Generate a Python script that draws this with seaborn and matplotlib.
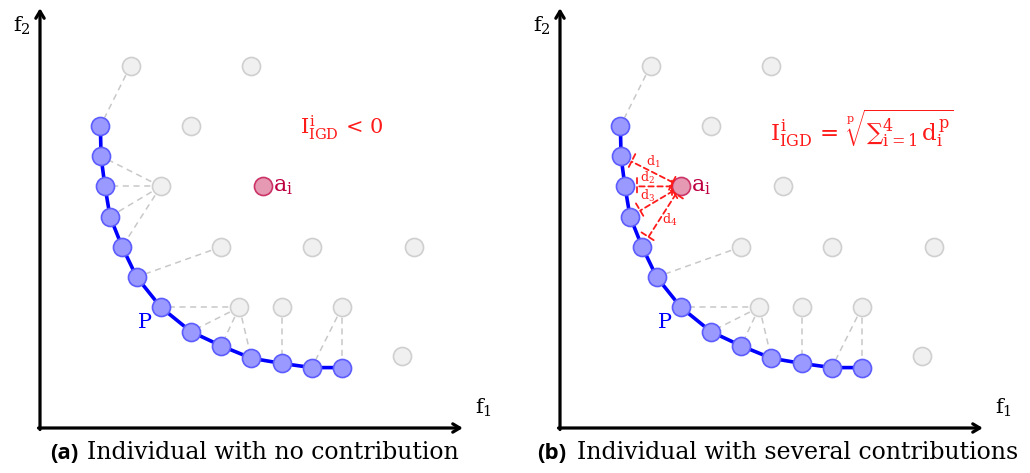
import matplotlib
matplotlib.use("Agg")
import matplotlib.pyplot as plt
import numpy as np
import pandas as pd
import seaborn as sns

# Pareto front approximation P (f1, f2)
front_f1 = [2.0, 2.02, 2.15, 2.32, 2.72, 3.2, 4.0, 5.0, 6.0, 7.0, 8.0, 9.0, 10.0]
front_f2 = [10.0, 9.0, 8.0, 7.0, 6.0, 5.0, 4.0, 3.19, 2.72, 2.31, 2.14, 2.0, 2.0]

# population members present in both panels
pop_f1 = [3.0, 7.0, 5.0, 6.0, 9.0, 12.4, 6.6, 8.0, 10.0, 12.0]
pop_f2 = [12.0, 12.0, 10.0, 6.0, 6.0, 6.0, 4.0, 4.0, 4.0, 2.4]

# the two positions that a_i and one other member swap between panels
near_pos = (4.0, 8.0)
far_pos = (7.4, 8.0)

# links from population members to their nearest front points
link_src_f1 = [3.0, 6.0, 6.6, 6.6, 6.6, 6.6, 8.0, 10.0, 10.0]
link_src_f2 = [12.0, 6.0, 4.0, 4.0, 4.0, 4.0, 4.0, 4.0, 4.0]
link_front = [0, 5, 6, 7, 8, 9, 10, 11, 12]

# front points closest to the member at near_pos
contrib_front = [1, 2, 3, 4]
contrib_labels = [r"$d_1$", r"$d_2$", r"$d_3$", r"$d_4$"]

captions = [("(a)", "Individual with no contribution"),
            ("(b)", "Individual with several contributions")]
formulas = [r"$I^{i}_{\mathrm{IGD}}\,<\,0$",
            "$I^{i}_{\\mathrm{IGD}}\\,=\\,\\sqrt[p]{\u2211_{i=1}^{4}\\,d_i^{p}}$"]
formula_sizes = [15, 16.5]

sns.set_style("white")
plt.rcParams["font.family"] = ["DejaVu Serif"]
plt.rcParams["text.color"] = "black"
plt.rcParams["mathtext.fontset"] = "custom"
plt.rcParams["mathtext.rm"] = "DejaVu Serif"
plt.rcParams["mathtext.it"] = "DejaVu Serif"
plt.rcParams["mathtext.bf"] = "DejaVu Serif:bold"

BLUE_FILL, BLUE_EDGE = "#9999ff", "#5c5cff"
GREY_FILL, GREY_EDGE = "#f0f0f0", "#cfcfcf"
AI_FILL, AI_EDGE, AI_TEXT = "#e599b3", "#cc3366", "#bf0040"
RED = "#ff1a1a"

W, H = 1030, 473
UNIT = 30.2  # pixels per data unit
fig = plt.figure(figsize=(W / 100, H / 100), dpi=100)

front_df = pd.DataFrame({"f1": front_f1, "f2": front_f2})
MS = 13  # marker size in points

for k, left_px in enumerate([40, 560]):
    ax = fig.add_axes([left_px / W, 45 / H, 450 / W, 428 / H])
    ax.set_xlim(0, 450 / UNIT)
    ax.set_ylim(0, 428 / UNIT)
    ax.axis("off")

    ai = far_pos if k == 0 else near_pos
    other = near_pos if k == 0 else far_pos
    grey_df = pd.DataFrame({"f1": pop_f1 + [other[0]], "f2": pop_f2 + [other[1]]})

    # grey dashed nearest-neighbour links
    for sx, sy, fi in zip(link_src_f1, link_src_f2, link_front):
        ax.plot([sx, front_f1[fi]], [sy, front_f2[fi]], ls=(0, (4, 3)),
                color="#c8c8c8", lw=1.1, zorder=1)
    if k == 0:
        for fi in contrib_front:
            ax.plot([other[0], front_f1[fi]], [other[1], front_f2[fi]],
                    ls=(0, (4, 3)), color="#c8c8c8", lw=1.1, zorder=1)

    # axes with arrow heads
    top = 13.9
    ax.annotate("", xy=(14.0, 0), xytext=(-0.05, 0),
                arrowprops=dict(arrowstyle="->,head_length=0.5,head_width=0.3",
                                lw=2.3, color="black", shrinkA=0, shrinkB=0))
    ax.annotate("", xy=(0, top), xytext=(0, -0.05),
                arrowprops=dict(arrowstyle="->,head_length=0.5,head_width=0.3",
                                lw=2.3, color="black", shrinkA=0, shrinkB=0))
    ax.text(14.67, 0.3, r"$f_1$", fontsize=15, ha="center", va="bottom")
    ax.text(-0.6, 12.95, r"$f_2$", fontsize=15, ha="center", va="bottom")

    # population members
    sns.scatterplot(data=grey_df, x="f1", y="f2", ax=ax, s=MS ** 2,
                    color=GREY_FILL, edgecolor=GREY_EDGE, linewidth=1.2,
                    zorder=3, legend=False)

    # front P
    sns.lineplot(data=front_df, x="f1", y="f2", ax=ax, sort=False,
                 color="#0000ff", lw=2.6, zorder=4, legend=False)
    sns.scatterplot(data=front_df, x="f1", y="f2", ax=ax, s=MS ** 2,
                    color=BLUE_FILL, edgecolor=BLUE_EDGE, linewidth=1.2,
                    zorder=5, legend=False)
    ax.text(3.48, 3.48, r"$P$", color="#0000ff", fontsize=15,
            ha="center", va="center")

    # individual a_i
    sns.scatterplot(x=[ai[0]], y=[ai[1]], ax=ax, s=MS ** 2, color=AI_FILL,
                    edgecolor=AI_EDGE, linewidth=1.2, zorder=6, legend=False)
    ax.text(ai[0] + 0.33, ai[1] + 0.02, r"$a_i$", color=AI_TEXT, fontsize=16,
            ha="left", va="center")

    ax.text(10.0, 9.93, formulas[k], color=RED, fontsize=formula_sizes[k],
            ha="center", va="center")

    if k == 1:
        offsets = [(0.08, 0.3), (-0.17, 0.28), (-0.28, 0.19), (0.28, -0.11)]
        for fi, lab, (ox, oy) in zip(contrib_front, contrib_labels, offsets):
            px, py = front_f1[fi], front_f2[fi]
            ax.annotate("", xy=(px, py), xytext=ai,
                        arrowprops=dict(arrowstyle="|-|,widthA=0.6,widthB=0.6",
                                        ls=(0, (3, 2)), lw=1.3, color=RED,
                                        shrinkA=6.5, shrinkB=8.5),
                        zorder=7, fontsize=10)
            ax.text((px + ai[0]) / 2 + ox, (py + ai[1]) / 2 + oy, lab,
                    color=RED, fontsize=9, ha="center", va="center",
                    zorder=8)

# captions: bold sans tag followed by serif text
cap_pos = [(50, 87), (537, 577)]
for (tag, txt), (tx, bx) in zip(captions, cap_pos):
    fig.text(tx / W, (H - 459) / H, tag, fontsize=16, fontweight="bold",
             family=["Open Sans", "DejaVu Sans"], ha="left", va="baseline")
    fig.text(bx / W, (H - 459) / H, txt, fontsize=17, ha="left",
             va="baseline")

fig.savefig("out.png", dpi=100)
